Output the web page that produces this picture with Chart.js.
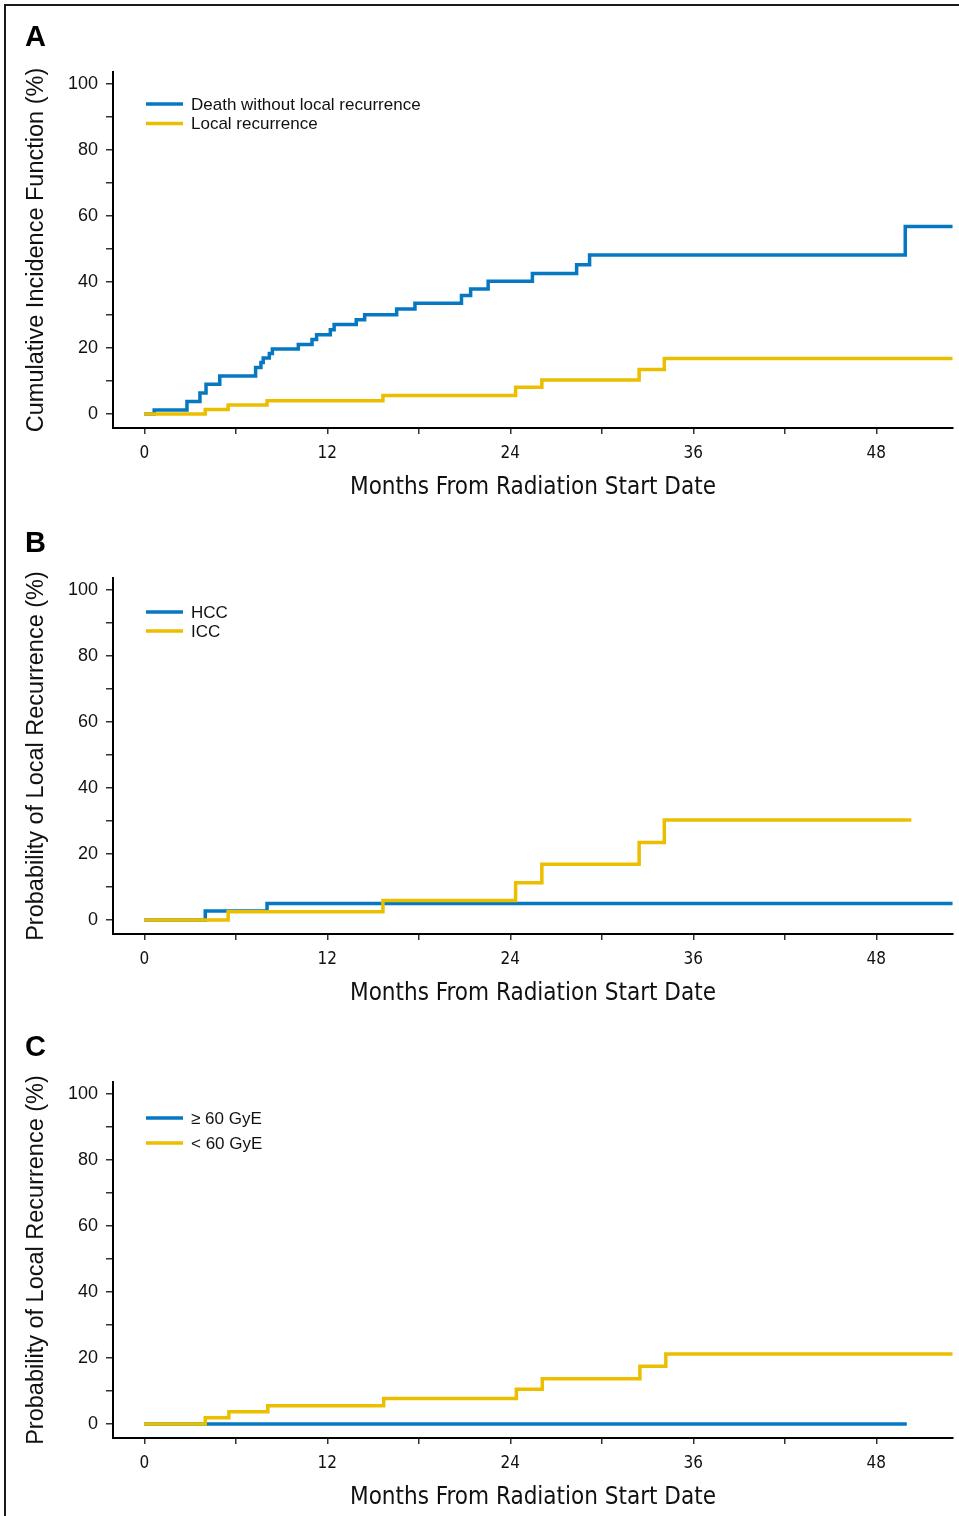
<!DOCTYPE html>
<html>
<head>
<meta charset="utf-8">
<script src="https://cdn.jsdelivr.net/npm/chart.js@4.4.1/dist/chart.umd.min.js"></script>
<style>
  html, body { margin: 0; padding: 0; background: #fff; }
  #page { position: relative; width: 959px; height: 1516px; overflow: hidden; }
  #frame { position: absolute; left: 4px; top: 4px; right: -10px; bottom: -10px;
           border-top: 2px solid #1a1a1a; border-left: 2px solid #1a1a1a; }
  canvas { position: absolute; left: 0; }
</style>
</head>
<body>
<div id="page">
  <div id="frame"></div>
  <canvas id="chartA" width="959" height="505" style="top:0px"></canvas>
  <canvas id="chartB" width="959" height="505" style="top:506px"></canvas>
  <canvas id="chartC" width="959" height="505" style="top:1010px"></canvas>
</div>
<script>
// axis ticks
const monthTicks = [0, 6, 12, 18, 24, 30, 36, 42, 48];
const monthLabels = [0, 12, 24, 36, 48];
const pctTicks = [0, 10, 20, 30, 40, 50, 60, 70, 80, 90, 100];
const pctLabels = [0, 20, 40, 60, 80, 100];

// Panel A - competing risks
const deathTimes = [0, 0.65, 2.8, 3.65, 4.05, 4.95, 7.3, 7.65, 7.8, 8.2, 8.4, 10.1, 11.0, 11.3, 12.2, 12.45, 13.9, 14.45, 16.55, 17.75, 20.8, 21.4, 22.55, 25.45, 28.35, 29.2, 49.9, 53];
const deathCIF   = [0, 1.2, 3.8, 6.4, 9.0, 11.5, 14.1, 15.6, 17.0, 18.3, 19.7, 21.1, 22.6, 24.0, 25.5, 27.1, 28.6, 30.1, 31.8, 33.6, 35.9, 37.9, 40.2, 42.6, 45.2, 48.2, 56.8, 56.8];
const lrTimes = [0, 4.0, 5.5, 8.05, 15.65, 24.35, 26.07, 32.45, 34.1, 53];
const lrCIF   = [0, 1.4, 2.7, 4.0, 5.6, 8.1, 10.3, 13.5, 16.8, 16.8];

// Panel B - histology
const hccTimes = [0, 4.0, 8.05, 53];
const hccProb  = [0, 2.7, 5.0, 5.0];
const iccTimes = [0, 5.5, 15.65, 24.35, 26.07, 32.45, 34.1, 50.3];
const iccProb  = [0, 2.5, 5.9, 11.3, 16.9, 23.5, 30.3, 30.3];

// Panel C - dose
const highDoseTimes = [0, 50.0];
const highDoseProb  = [0, 0];
const lowDoseTimes = [0, 4.0, 5.55, 8.1, 15.7, 24.4, 26.1, 32.5, 34.2, 53];
const lowDoseProb  = [0, 1.9, 3.7, 5.5, 7.7, 10.5, 13.7, 17.5, 21.2, 21.2];

const BLUE = '#0678c1';
const YELLOW = '#ecbe00';
const NARROW = "'Liberation Sans Narrow', 'DejaVu Sans Condensed', 'Arial Narrow', sans-serif";
const SANS = "'Liberation Sans', Arial, Helvetica, sans-serif";

function toPoints(times, vals) {
    return times.map((t, i) => ({ x: t, y: vals[i] }));
}

// panel letter and legend drawn on the canvas
const panelDecor = {
    id: 'panelDecor',
    afterDraw(chart, args, opts) {
        const ctx = chart.ctx;
        const area = chart.chartArea;
        ctx.save();
        ctx.fillStyle = '#000';
        ctx.font = 'bold 29px ' + SANS;
        ctx.textBaseline = 'middle';
        ctx.textAlign = 'left';
        ctx.fillText(opts.letter, 25, 38);

        ctx.font = '17px ' + SANS;
        chart.data.datasets.slice().sort((a, b) => a.legendIndex - b.legendIndex).forEach((ds, i) => {
            const y = area.top + opts.legendTop + i * opts.legendGap;
            ctx.strokeStyle = ds.borderColor;
            ctx.lineWidth = 3.5;
            ctx.beginPath();
            ctx.moveTo(area.left + 33, y);
            ctx.lineTo(area.left + 70, y);
            ctx.stroke();
            ctx.fillStyle = '#111';
            ctx.fillText(ds.label, area.left + 78, y + 1);
        });
        ctx.restore();
    }
};

function makePanel(id, letter, yTitle, blueLabel, blueData, yellowLabel, yellowData, legendTop, legendGap) {
    const ctx = document.getElementById(id).getContext('2d');
    return new Chart(ctx, {
        type: 'line',
        data: {
            datasets: [
                {
                    label: yellowLabel, data: yellowData, borderColor: YELLOW,
                    borderWidth: 3.5, pointRadius: 0, stepped: 'before', fill: false,
                    order: 0, legendIndex: 1
                },
                {
                    label: blueLabel, data: blueData, borderColor: BLUE,
                    borderWidth: 3.5, pointRadius: 0, stepped: 'before', fill: false,
                    order: 1, legendIndex: 0
                }
            ]
        },
        options: {
            responsive: false,
            animation: false,
            events: [],
            layout: { padding: { left: 0, top: 72, right: 6, bottom: 0 } },
            plugins: {
                legend: { display: false },
                tooltip: { enabled: false },
                panelDecor: { letter, legendTop, legendGap }
            },
            scales: {
                x: {
                    type: 'linear',
                    min: -2.05,
                    max: 53.03,
                    afterBuildTicks: (scale) => { scale.ticks = monthTicks.map(v => ({ value: v })); },
                    afterFit: (scale) => { scale.height = 77; },
                    ticks: {
                        autoSkip: false,
                        maxRotation: 0,
                        padding: 9,
                        color: '#111',
                        font: { family: NARROW, size: 17 },
                        callback: (v) => monthLabels.includes(v) ? String(v) : ''
                    },
                    grid: { drawOnChartArea: false, drawTicks: true, tickLength: 6, color: '#333', lineWidth: 1.5 },
                    border: { display: true, color: '#000', width: 2 },
                    title: {
                        display: true,
                        text: 'Months From Radiation Start Date',
                        color: '#111',
                        font: { family: NARROW, size: 24 },
                        padding: { top: 0, bottom: 3 }
                    }
                },
                y: {
                    type: 'linear',
                    min: -4.24,
                    max: 103.64,
                    afterBuildTicks: (scale) => { scale.ticks = pctTicks.map(v => ({ value: v })); },
                    afterFit: (scale) => { scale.width = 113; },
                    ticks: {
                        autoSkip: false,
                        padding: 8,
                        color: '#111',
                        font: { family: SANS, size: 18 },
                        callback: (v) => pctLabels.includes(v) ? String(v) : ''
                    },
                    grid: { drawOnChartArea: false, drawTicks: true, tickLength: 7, color: '#333', lineWidth: 1.5 },
                    border: { display: true, color: '#000', width: 2 },
                    title: {
                        display: true,
                        text: yTitle,
                        color: '#111',
                        font: { family: SANS, size: 23.5 },
                        padding: { top: 22, bottom: 0 }
                    }
                }
            }
        },
        plugins: [panelDecor]
    });
}

makePanel('chartA', 'A', 'Cumulative Incidence Function (%)',
    'Death without local recurrence', toPoints(deathTimes, deathCIF),
    'Local recurrence', toPoints(lrTimes, lrCIF), 32, 19.5);

makePanel('chartB', 'B', 'Probability of Local Recurrence (%)',
    'HCC', toPoints(hccTimes, hccProb),
    'ICC', toPoints(iccTimes, iccProb), 34, 19);

makePanel('chartC', 'C', 'Probability of Local Recurrence (%)',
    '\u2265 60 GyE', toPoints(highDoseTimes, highDoseProb),
    '< 60 GyE', toPoints(lowDoseTimes, lowDoseProb), 36, 25);
</script>
</body>
</html>
